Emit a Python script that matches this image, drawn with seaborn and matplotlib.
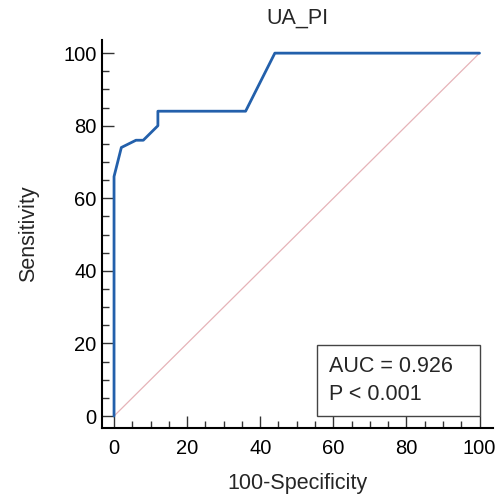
import pandas as pd
import seaborn as sns
import matplotlib.pyplot as plt
from matplotlib.patches import Rectangle
from matplotlib.ticker import MultipleLocator

# ROC curve points
fpr = [0, 0, 2, 6, 8, 12, 12, 36, 44, 100]
tpr = [0, 66, 74, 76, 76, 80, 84, 84, 100, 100]
diag = [0, 100]
auc_text = "AUC = 0.926"
p_text = "P < 0.001"

df = pd.DataFrame({"x": fpr, "y": tpr})

sns.set_style('ticks')
plt.rcParams['font.family'] = ['Liberation Sans', 'DejaVu Sans']

fig = plt.figure(figsize=(4.96, 5.01), dpi=100)
ax = fig.add_axes([0.2056, 0.1457, 0.994 - 0.2056, 0.920 - 0.1457])

ax.plot(diag, diag, color='#e6b3b8', lw=0.9, zorder=1)
sns.lineplot(data=df, x='x', y='y', sort=False, estimator=None, color='#2360ab', lw=2, ax=ax, zorder=3)

ax.set_xlim(-3.3, 103.7)
ax.set_ylim(-3.3, 103.6)
ax.xaxis.set_major_locator(MultipleLocator(20))
ax.yaxis.set_major_locator(MultipleLocator(20))
ax.xaxis.set_minor_locator(MultipleLocator(5))
ax.yaxis.set_minor_locator(MultipleLocator(5))
ax.tick_params(which='major', direction='in', length=8.5, width=1, colors='#333333', labelcolor='black', labelsize=14.5)
ax.tick_params(which='minor', direction='in', length=5, width=1, colors='#333333')
ax.tick_params(axis='x', which='major', pad=8)
ax.tick_params(axis='y', which='major', pad=4)

sns.despine(ax=ax)
for s in ['left', 'bottom']:
    ax.spines[s].set_linewidth(1.5)
    ax.spines[s].set_color('black')

ax.set_xlabel('100-Specificity', fontsize=15.5, labelpad=11)
ax.set_ylabel('Sensitivity', fontsize=15.5, labelpad=17)
ax.set_title('UA_PI', fontsize=15.5, pad=12)

# stats box in the lower right corner
ax.add_patch(Rectangle((55.6, 0), 44.4, 19.6, fill=False, ec='#444444', lw=1, zorder=4))
ax.text(58.9, 13.6, auc_text, fontsize=15.5, va='center', ha='left', zorder=5)
ax.text(58.9, 5.8, p_text, fontsize=15.5, va='center', ha='left', zorder=5)

fig.savefig('out.png', dpi=100)
